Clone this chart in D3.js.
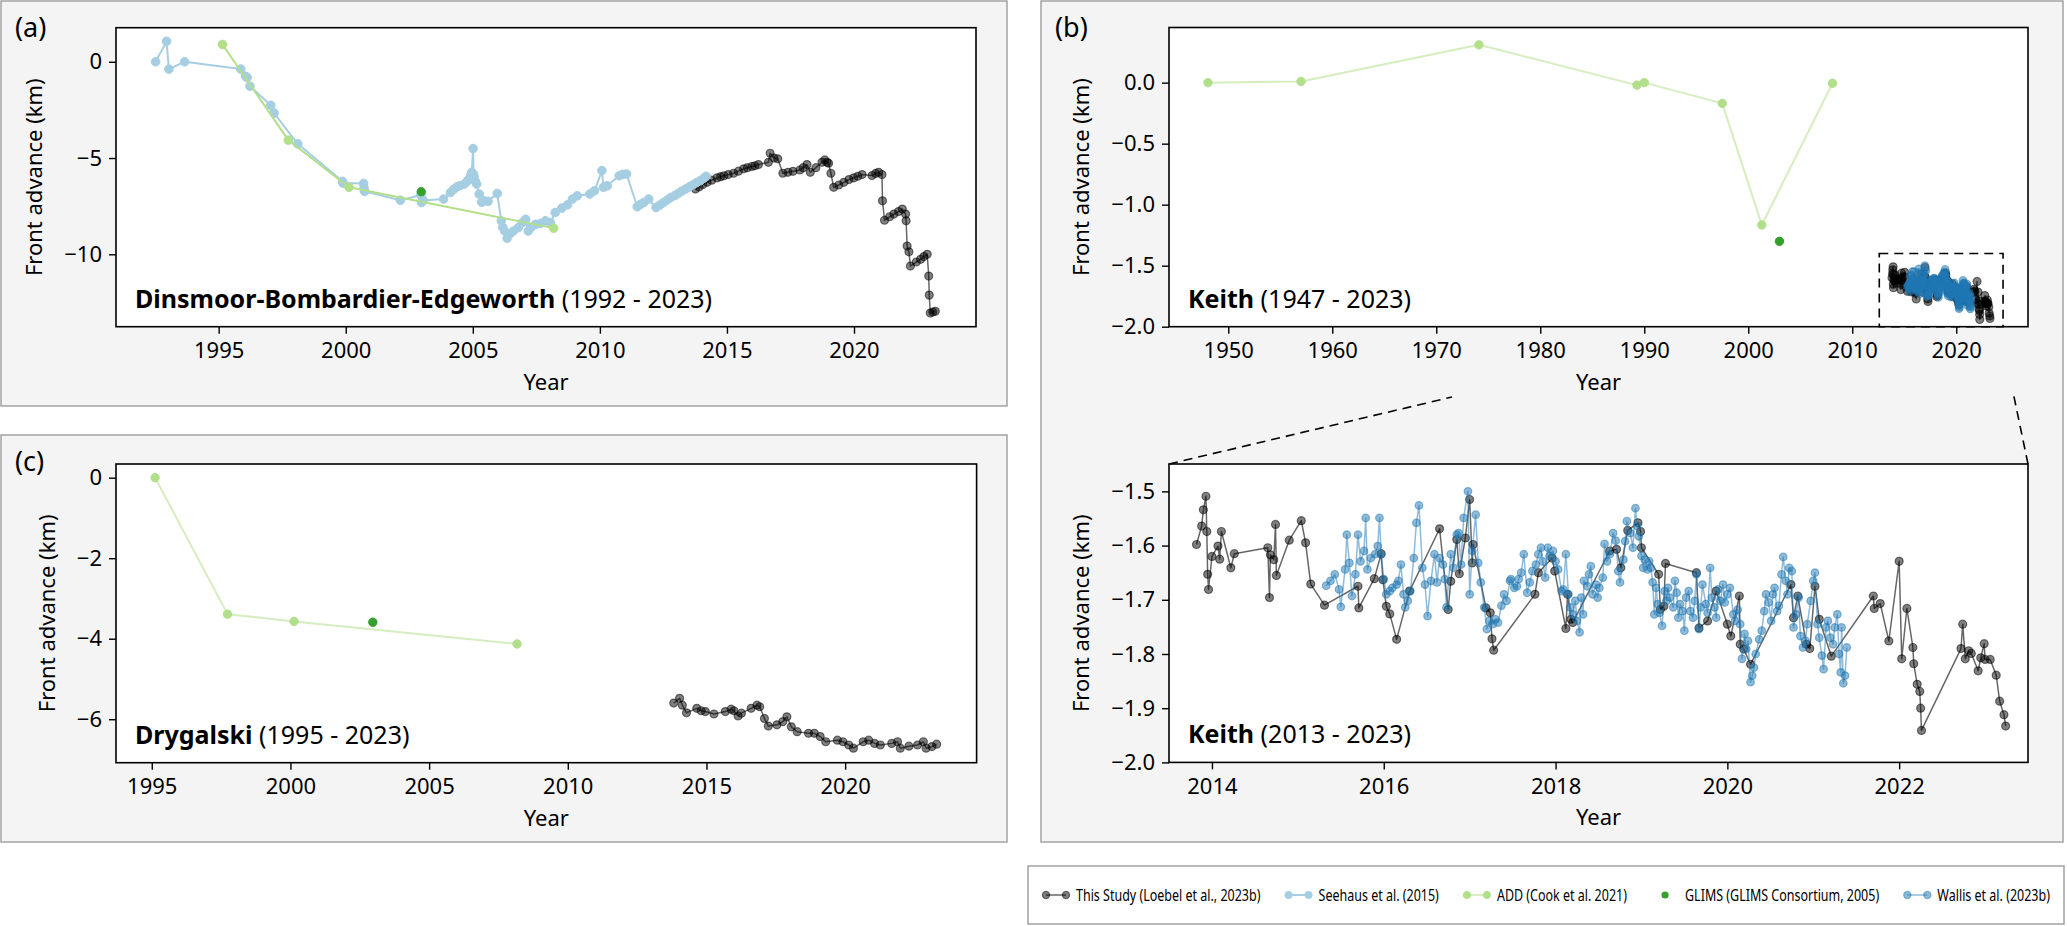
<!DOCTYPE html>
<html>
<head>
<meta charset="utf-8">
<script src="https://cdn.jsdelivr.net/npm/d3@7"></script>
<style>
  body { margin: 0; background: #fff; }
  text { font-family: "Noto Sans", "Open Sans", sans-serif; fill: #000; }
</style>
</head>
<body>
<svg id="fig" width="2067" height="926"></svg>
<script>
// ---------- data (year, front advance in km) ----------

// (a) Dinsmoor-Bombardier-Edgeworth
const dbeSeehaus = [
  [1992.52, 0.0], [1992.95, 1.06], [1993.04, -0.38], [1993.66, 0.0], [1995.87, -0.38], [1996.06, -0.75],
  [1996.12, -0.82], [1996.23, -1.27], [1997.05, -2.26], [1997.18, -2.66], [1998.11, -4.26], [1999.87, -6.21],
  [1999.89, -6.30], [2000.70, -6.32], [2000.72, -6.55], [2000.74, -6.73], [2002.15, -7.19], [2002.96, -6.92],
  [2002.98, -7.31], [2003.05, -7.20], [2003.85, -7.13], [2004.12, -6.79], [2004.25, -6.62], [2004.38, -6.49],
  [2004.50, -6.43], [2004.67, -6.35], [2004.78, -6.20], [2004.86, -6.09], [2004.92, -5.90], [2004.96, -5.74],
  [2005.01, -4.51], [2005.03, -5.85], [2005.05, -6.00], [2005.10, -6.20], [2005.15, -6.35], [2005.25, -6.87],
  [2005.35, -7.30], [2005.44, -7.22], [2005.60, -7.25], [2005.96, -6.84], [2006.12, -8.26], [2006.18, -8.60],
  [2006.25, -8.79], [2006.35, -9.17], [2006.45, -8.95], [2006.60, -8.79], [2006.79, -8.61], [2006.95, -8.35],
  [2007.08, -8.18], [2007.18, -8.79], [2007.30, -8.60], [2007.47, -8.44], [2007.66, -8.40], [2007.86, -8.26],
  [2008.05, -8.35], [2008.24, -7.83], [2008.50, -7.60], [2008.73, -7.43], [2008.92, -7.13], [2009.11, -6.96],
  [2009.60, -6.87], [2009.79, -6.70], [2010.08, -5.65], [2010.14, -6.52], [2010.29, -6.44], [2010.76, -5.92],
  [2010.90, -5.85], [2011.05, -5.83], [2011.47, -7.53], [2011.60, -7.40], [2011.73, -7.31], [2011.92, -7.13],
  [2012.21, -7.57], [2012.35, -7.45], [2012.50, -7.31], [2012.65, -7.18], [2012.79, -7.05], [2012.95, -6.95],
  [2013.08, -6.84], [2013.22, -6.72], [2013.37, -6.61], [2013.52, -6.50], [2013.66, -6.39], [2013.80, -6.28],
  [2013.95, -6.18], [2014.08, -6.05], [2014.18, -5.95]
];
const dbeThisStudy = [
  [2013.76, -6.61], [2013.90, -6.50], [2014.05, -6.38], [2014.22, -6.26], [2014.40, -6.15], [2014.61, -6.03],
  [2014.75, -5.97], [2014.88, -5.92], [2015.05, -5.86], [2015.26, -5.79], [2015.45, -5.68], [2015.66, -5.56],
  [2015.80, -5.50], [2015.98, -5.44], [2016.10, -5.40], [2016.24, -5.34], [2016.63, -5.22], [2016.70, -4.75],
  [2016.85, -5.00], [2017.00, -5.04], [2017.20, -5.79], [2017.40, -5.74], [2017.60, -5.69], [2017.87, -5.62],
  [2018.00, -5.50], [2018.15, -5.34], [2018.28, -5.74], [2018.50, -5.50], [2018.74, -5.22], [2018.85, -5.10],
  [2018.94, -5.22], [2019.00, -5.27], [2019.09, -5.79], [2019.20, -6.52], [2019.40, -6.40], [2019.60, -6.26],
  [2019.80, -6.12], [2019.99, -6.03], [2020.15, -5.95], [2020.32, -5.86], [2020.71, -5.91], [2020.85, -5.80],
  [2020.97, -5.74], [2021.10, -5.86], [2021.12, -7.22], [2021.20, -8.23], [2021.40, -8.05], [2021.57, -7.91],
  [2021.75, -7.78], [2021.90, -7.65], [2022.03, -7.91], [2022.05, -8.26], [2022.09, -9.57], [2022.16, -9.87],
  [2022.22, -10.61], [2022.45, -10.40], [2022.62, -10.26], [2022.75, -10.12], [2022.88, -10.00], [2022.94, -11.13],
  [2022.96, -12.12], [2023.00, -13.05], [2023.10, -13.00], [2023.20, -12.96]
];
const dbeAdd = [[1995.15, 0.90], [1997.74, -4.07], [2000.13, -6.52], [2008.18, -8.64]];
const dbeGlims = [[2002.97, -6.75]];

// (b) Keith
const keithAdd = [
  [1948.05, 0.0], [1957.0, 0.01], [1974.1, 0.31], [1989.3, -0.02], [1990.0, 0.0],
  [1997.5, -0.17], [2001.3, -1.166], [2008.1, -0.005]
];
const keithGlims = [[2003.0, -1.30]];
const keithThisStudy = [
  [2013.82, -1.598], [2013.88, -1.564], [2013.90, -1.534], [2013.93, -1.509], [2013.94, -1.574], [2013.95, -1.653],
  [2013.96, -1.681], [2014.00, -1.620], [2014.07, -1.601], [2014.09, -1.625], [2014.11, -1.574], [2014.22, -1.641],
  [2014.26, -1.615], [2014.65, -1.604], [2014.67, -1.696], [2014.68, -1.617], [2014.72, -1.626], [2014.74, -1.561],
  [2014.75, -1.655], [2014.90, -1.590], [2015.04, -1.554], [2015.09, -1.595], [2015.15, -1.671], [2015.31, -1.710],
  [2015.70, -1.675], [2015.71, -1.715], [2015.89, -1.661], [2015.97, -1.615], [2015.99, -1.663], [2016.03, -1.712],
  [2016.07, -1.726], [2016.15, -1.773], [2016.30, -1.684], [2016.65, -1.569], [2016.75, -1.718], [2016.78, -1.666],
  [2016.85, -1.589], [2016.88, -1.652], [2016.95, -1.586], [2017.00, -1.515], [2017.03, -1.632], [2017.04, -1.598],
  [2017.19, -1.715], [2017.24, -1.724], [2017.26, -1.772], [2017.28, -1.793], [2017.76, -1.690], [2017.80, -1.650],
  [2017.96, -1.623], [2017.99, -1.647], [2018.12, -1.753], [2018.14, -1.690], [2018.18, -1.736], [2018.20, -1.742],
  [2018.63, -1.610], [2018.71, -1.607], [2018.76, -1.641], [2018.84, -1.572], [2018.96, -1.558], [2018.99, -1.574],
  [2019.00, -1.604], [2019.20, -1.653], [2019.22, -1.718], [2019.26, -1.712], [2019.28, -1.633], [2019.64, -1.650],
  [2019.67, -1.752], [2019.77, -1.739], [2019.87, -1.684], [2020.00, -1.745], [2020.04, -1.767], [2020.14, -1.693],
  [2020.15, -1.782], [2020.19, -1.791], [2020.27, -1.819], [2020.74, -1.672], [2020.77, -1.733], [2020.82, -1.693],
  [2020.92, -1.782], [2020.96, -1.790], [2021.02, -1.675], [2021.07, -1.736], [2021.21, -1.804], [2021.70, -1.693],
  [2021.71, -1.716], [2021.78, -1.707], [2021.88, -1.776], [2022.00, -1.629], [2022.03, -1.809], [2022.09, -1.716],
  [2022.16, -1.788], [2022.17, -1.818], [2022.21, -1.856], [2022.24, -1.869], [2022.25, -1.900], [2022.26, -1.941],
  [2022.72, -1.790], [2022.74, -1.745], [2022.77, -1.809], [2022.81, -1.794], [2022.84, -1.799], [2022.92, -1.831],
  [2022.95, -1.807], [2022.99, -1.781], [2023.00, -1.810], [2023.06, -1.810], [2023.13, -1.839], [2023.17, -1.887],
  [2023.22, -1.912], [2023.24, -1.933]
];
const keithWallis = [
  [2015.33, -1.674], [2015.38, -1.665], [2015.43, -1.653], [2015.48, -1.681], [2015.50, -1.713], [2015.55, -1.644],
  [2015.57, -1.580], [2015.60, -1.632], [2015.63, -1.693], [2015.67, -1.653], [2015.70, -1.580], [2015.73, -1.629],
  [2015.77, -1.610], [2015.79, -1.549], [2015.81, -1.644], [2015.85, -1.623], [2015.90, -1.616], [2015.93, -1.601],
  [2015.95, -1.549], [2015.97, -1.616], [2016.00, -1.662], [2016.03, -1.690], [2016.07, -1.684], [2016.10, -1.678],
  [2016.15, -1.672], [2016.17, -1.665], [2016.20, -1.635], [2016.23, -1.690], [2016.25, -1.714], [2016.28, -1.702],
  [2016.31, -1.684], [2016.35, -1.623], [2016.38, -1.558], [2016.41, -1.526], [2016.45, -1.641], [2016.48, -1.672],
  [2016.51, -1.730], [2016.55, -1.665], [2016.59, -1.616], [2016.62, -1.668], [2016.65, -1.623], [2016.69, -1.635],
  [2016.71, -1.662], [2016.73, -1.714], [2016.78, -1.616], [2016.81, -1.641], [2016.85, -1.580], [2016.87, -1.577],
  [2016.90, -1.635], [2016.93, -1.549], [2016.98, -1.500], [2017.00, -1.690], [2017.03, -1.610], [2017.07, -1.543],
  [2017.10, -1.632], [2017.13, -1.668], [2017.17, -1.714], [2017.20, -1.754], [2017.23, -1.739], [2017.27, -1.745],
  [2017.30, -1.736], [2017.33, -1.742], [2017.37, -1.711], [2017.40, -1.690], [2017.43, -1.702], [2017.47, -1.665],
  [2017.48, -1.662], [2017.52, -1.678], [2017.55, -1.675], [2017.57, -1.662], [2017.60, -1.650], [2017.63, -1.616],
  [2017.67, -1.687], [2017.70, -1.668], [2017.73, -1.647], [2017.77, -1.635], [2017.80, -1.616], [2017.83, -1.604],
  [2017.85, -1.629], [2017.88, -1.659], [2017.91, -1.604], [2017.93, -1.619], [2017.97, -1.610], [2018.00, -1.629],
  [2018.03, -1.644], [2018.07, -1.684], [2018.09, -1.681], [2018.12, -1.616], [2018.15, -1.690], [2018.17, -1.714],
  [2018.20, -1.727], [2018.23, -1.702], [2018.25, -1.739], [2018.28, -1.760], [2018.30, -1.696], [2018.32, -1.727],
  [2018.33, -1.665], [2018.37, -1.675], [2018.39, -1.653], [2018.41, -1.638], [2018.43, -1.690], [2018.47, -1.672],
  [2018.49, -1.696], [2018.51, -1.678], [2018.55, -1.659], [2018.57, -1.597], [2018.60, -1.629], [2018.63, -1.616],
  [2018.67, -1.577], [2018.70, -1.591], [2018.73, -1.647], [2018.75, -1.668], [2018.79, -1.626], [2018.81, -1.592],
  [2018.83, -1.555], [2018.87, -1.577], [2018.90, -1.604], [2018.93, -1.531], [2018.95, -1.564], [2018.97, -1.583],
  [2019.00, -1.619], [2019.02, -1.641], [2019.04, -1.626], [2019.07, -1.644], [2019.09, -1.629], [2019.11, -1.641],
  [2019.13, -1.668], [2019.15, -1.727], [2019.17, -1.678], [2019.19, -1.708], [2019.21, -1.724], [2019.24, -1.748],
  [2019.27, -1.684], [2019.29, -1.702], [2019.31, -1.678], [2019.33, -1.696], [2019.37, -1.714], [2019.39, -1.665],
  [2019.41, -1.687], [2019.43, -1.733], [2019.45, -1.708], [2019.48, -1.721], [2019.50, -1.757], [2019.52, -1.696],
  [2019.55, -1.684], [2019.57, -1.721], [2019.60, -1.733], [2019.62, -1.702], [2019.64, -1.653], [2019.67, -1.754],
  [2019.69, -1.714], [2019.71, -1.672], [2019.75, -1.708], [2019.77, -1.724], [2019.80, -1.641], [2019.82, -1.696],
  [2019.85, -1.714], [2019.87, -1.733], [2019.89, -1.681], [2019.92, -1.702], [2019.95, -1.672], [2019.97, -1.705],
  [2020.00, -1.690], [2020.03, -1.678], [2020.07, -1.727], [2020.09, -1.739], [2020.12, -1.718], [2020.15, -1.745],
  [2020.17, -1.809], [2020.20, -1.763], [2020.22, -1.791], [2020.24, -1.776], [2020.27, -1.852], [2020.29, -1.840],
  [2020.31, -1.825], [2020.33, -1.800], [2020.37, -1.773], [2020.40, -1.757], [2020.43, -1.721], [2020.45, -1.690],
  [2020.48, -1.705], [2020.51, -1.739], [2020.53, -1.690], [2020.55, -1.678], [2020.58, -1.721], [2020.60, -1.711],
  [2020.63, -1.653], [2020.65, -1.621], [2020.68, -1.665], [2020.70, -1.690], [2020.72, -1.641], [2020.75, -1.647],
  [2020.77, -1.751], [2020.80, -1.727], [2020.83, -1.696], [2020.85, -1.767], [2020.88, -1.788], [2020.91, -1.776],
  [2020.93, -1.745], [2020.97, -1.702], [2021.00, -1.665], [2021.02, -1.650], [2021.05, -1.745], [2021.07, -1.770],
  [2021.10, -1.803], [2021.12, -1.828], [2021.15, -1.751], [2021.17, -1.739], [2021.20, -1.770], [2021.23, -1.782],
  [2021.25, -1.751], [2021.28, -1.727], [2021.30, -1.800], [2021.32, -1.834], [2021.33, -1.751], [2021.35, -1.854],
  [2021.37, -1.840], [2021.39, -1.788]
];

// (c) Drygalski
const drygAdd = [[1995.12, 0.0], [1997.73, -3.39], [2000.13, -3.57], [2008.17, -4.13]];
const drygGlims = [[2002.97, -3.59]];
const drygThisStudy = [
  [2013.82, -5.60], [2014.03, -5.48], [2014.13, -5.65], [2014.28, -5.84], [2014.65, -5.73], [2014.81, -5.79],
  [2014.96, -5.81], [2015.27, -5.87], [2015.68, -5.81], [2015.89, -5.75], [2015.99, -5.79], [2016.14, -5.92],
  [2016.26, -5.85], [2016.61, -5.73], [2016.82, -5.65], [2016.92, -5.69], [2017.09, -5.98], [2017.23, -6.17],
  [2017.54, -6.14], [2017.75, -6.06], [2017.90, -5.94], [2018.06, -6.19], [2018.27, -6.31], [2018.68, -6.35],
  [2018.89, -6.35], [2019.10, -6.43], [2019.30, -6.56], [2019.72, -6.52], [2019.92, -6.56], [2020.13, -6.64],
  [2020.30, -6.72], [2020.65, -6.56], [2020.85, -6.52], [2021.06, -6.60], [2021.27, -6.64], [2021.68, -6.60],
  [2021.89, -6.56], [2021.99, -6.72], [2022.30, -6.67], [2022.61, -6.64], [2022.82, -6.56], [2022.92, -6.72],
  [2023.13, -6.68], [2023.30, -6.62]
];

const legendLabels = [
  "This Study (Loebel et al., 2023b)", "Seehaus et al. (2015)", "ADD (Cook et al. 2021)",
  "GLIMS (GLIMS Consortium, 2005)", "Wallis et al. (2023b)"
];

// ---------- styles ----------
const colThis = "#000000", colSeehaus = "#a6cee3", colAdd = "#b2df8a", colGlims = "#33a02c", colWallis = "#1f78b4";

const styleThis = {color: colThis, line: true, lw: 1.5, lo: 0.6, r: 4, fo: 0.5, so: 0.5, sw: 1.2};
const styleSeehaus = {color: colSeehaus, line: true, lw: 2, lo: 1, r: 4.3, fo: 1, so: 1, sw: 1};
const styleAddA = {color: colAdd, line: true, lw: 2, lo: 1, r: 4.3, fo: 1, so: 1, sw: 1};
const styleAdd = {color: colAdd, line: true, lw: 2, lo: 0.55, r: 4.2, fo: 1, so: 1, sw: 1};
const styleGlims = {color: colGlims, line: false, r: 4.2, fo: 1, so: 1, sw: 1};
const styleWallis = {color: colWallis, line: true, lw: 1.5, lo: 0.5, r: 3.8, fo: 0.5, so: 0.5, sw: 1.2};

const svg = d3.select("#fig");
const FS = 22;

// panel backgrounds
const panels = [
  {x: 1, y: 1, w: 1006, h: 405, label: "(a)", lx: 15, ly: 37},
  {x: 1, y: 435, w: 1006, h: 407, label: "(c)", lx: 15, ly: 471},
  {x: 1041, y: 1, w: 1022, h: 841, label: "(b)", lx: 1055, ly: 37}
];
panels.forEach(p => {
  svg.append("rect").attr("x", p.x).attr("y", p.y).attr("width", p.w).attr("height", p.h)
    .attr("fill", "#f4f4f4").attr("stroke", "#a3a3a3").attr("stroke-width", 1.5);
  svg.append("text").attr("x", p.lx).attr("y", p.ly).attr("font-size", 27).text(p.label);
});

let clipN = 0;
function makeAxes(o) {
  const x = d3.scaleLinear().domain(o.xd).range([o.left, o.right]);
  const y = d3.scaleLinear().domain(o.yd).range([o.bottom, o.top]);
  const g = svg.append("g");
  g.append("rect").attr("x", o.left).attr("y", o.top)
    .attr("width", o.right - o.left).attr("height", o.bottom - o.top).attr("fill", "#fff");
  const id = "clip" + (clipN++);
  g.append("clipPath").attr("id", id).append("rect")
    .attr("x", o.left).attr("y", o.top).attr("width", o.right - o.left).attr("height", o.bottom - o.top);
  const plot = g.append("g").attr("clip-path", `url(#${id})`);

  const xAxis = g.append("g").attr("transform", `translate(0,${o.bottom})`)
    .call(d3.axisBottom(x).tickValues(o.xt).tickFormat(d3.format("d")).tickSize(7).tickPadding(9));
  const yAxis = g.append("g").attr("transform", `translate(${o.left},0)`)
    .call(d3.axisLeft(y).tickValues(o.yt).tickFormat(d3.format(o.yf)).tickSize(7).tickPadding(7));
  [xAxis, yAxis].forEach(a => {
    a.select(".domain").remove();
    a.selectAll(".tick line").attr("stroke", "#000").attr("stroke-width", 1.4);
    a.selectAll(".tick text").attr("font-size", FS).attr("font-family", "Noto Sans").attr("fill", "#000");
  });

  const top = g.append("g");
  top.append("rect").attr("x", o.left).attr("y", o.top)
    .attr("width", o.right - o.left).attr("height", o.bottom - o.top)
    .attr("fill", "none").attr("stroke", "#000").attr("stroke-width", 1.6);

  // axis labels
  g.append("text").attr("x", (o.left + o.right) / 2).attr("y", o.bottom + 63)
    .attr("text-anchor", "middle").attr("font-size", FS).text("Year");
  const lb = yAxis.node().getBBox();
  g.append("text")
    .attr("transform", `translate(${o.left + lb.x - 30},${(o.top + o.bottom) / 2}) rotate(-90)`)
    .attr("dy", "0.35em").attr("text-anchor", "middle").attr("font-size", FS).text("Front advance (km)");

  // title inside axes
  const t = top.append("text").attr("x", o.left + 19).attr("y", o.bottom - 19).attr("font-size", 25);
  t.append("tspan").attr("font-weight", "bold").text(o.name);
  t.append("tspan").text(" " + o.range);
  return {x, y, plot, top, o};
}

function drawSeries(ax, data, s) {
  const pts = d3.sort(data, d => d[0]);
  const grp = ax.plot.append("g");
  if (s.line) {
    grp.append("path").datum(pts)
      .attr("d", d3.line().x(d => ax.x(d[0])).y(d => ax.y(d[1])))
      .attr("fill", "none").attr("stroke", s.color).attr("stroke-width", s.lw)
      .attr("stroke-opacity", s.lo).attr("stroke-linejoin", "round");
  }
  grp.selectAll("circle").data(pts).join("circle")
    .attr("cx", d => ax.x(d[0])).attr("cy", d => ax.y(d[1])).attr("r", s.r)
    .attr("fill", s.color).attr("fill-opacity", s.fo)
    .attr("stroke", s.color).attr("stroke-opacity", s.so).attr("stroke-width", s.sw);
}

// ---------- (a) ----------
const axA = makeAxes({
  left: 116, right: 976, top: 27.7, bottom: 326.7,
  xd: [1990.96, 2024.8], yd: [-13.76, 1.77],
  xt: [1995, 2000, 2005, 2010, 2015, 2020], yt: [0, -5, -10], yf: "d",
  name: "Dinsmoor-Bombardier-Edgeworth", range: "(1992 - 2023)"
});
drawSeries(axA, dbeThisStudy, styleThis);
drawSeries(axA, dbeSeehaus, styleSeehaus);
drawSeries(axA, dbeAdd, styleAddA);
drawSeries(axA, dbeGlims, styleGlims);

// ---------- (c) ----------
const axC = makeAxes({
  left: 116, right: 976.6, top: 464, bottom: 762.7,
  xd: [1993.71, 2024.74], yd: [-7.08, 0.34],
  xt: [1995, 2000, 2005, 2010, 2015, 2020], yt: [0, -2, -4, -6], yf: "d",
  name: "Drygalski", range: "(1995 - 2023)"
});
drawSeries(axC, drygAdd, styleAdd);
drawSeries(axC, drygGlims, styleGlims);
drawSeries(axC, drygThisStudy, styleThis);

// ---------- (b) overview ----------
const axB = makeAxes({
  left: 1169, right: 2028, top: 27.5, bottom: 326.7,
  xd: [1944.3, 2026.9], yd: [-2.0, 0.452],
  xt: [1950, 1960, 1970, 1980, 1990, 2000, 2010, 2020], yt: [0, -0.5, -1, -1.5, -2], yf: ".1f",
  name: "Keith", range: "(1947 - 2023)"
});
drawSeries(axB, keithAdd, styleAdd);
drawSeries(axB, keithGlims, styleGlims);
drawSeries(axB, keithThisStudy, styleThis);
drawSeries(axB, keithWallis, styleWallis);

// zoom box
const zoomX = [2012.6, 2024.5], zoomY = [-2.0, -1.4];
axB.top.append("rect")
  .attr("x", axB.x(zoomX[0])).attr("y", axB.y(zoomY[1]))
  .attr("width", axB.x(zoomX[1]) - axB.x(zoomX[0])).attr("height", axB.y(zoomY[0]) - axB.y(zoomY[1]))
  .attr("fill", "none").attr("stroke", "#000").attr("stroke-width", 1.6).attr("stroke-dasharray", "9,6");

// ---------- (b) detail ----------
const axD = makeAxes({
  left: 1169, right: 2028, top: 464, bottom: 762.4,
  xd: [2013.5, 2023.5], yd: [-2.0, -1.4495],
  xt: [2014, 2016, 2018, 2020, 2022], yt: [-1.5, -1.6, -1.7, -1.8, -1.9, -2.0], yf: ".1f",
  name: "Keith", range: "(2013 - 2023)"
});
drawSeries(axD, keithThisStudy, styleThis);
drawSeries(axD, keithWallis, styleWallis);

// connector lines from detail axes corners toward the zoom box
const conn = [
  [[axD.o.left, axD.o.top], [1452, 397]],
  [[axD.o.right, axD.o.top], [2013, 392]]
];
conn.forEach(c => {
  svg.append("line").attr("x1", c[0][0]).attr("y1", c[0][1]).attr("x2", c[1][0]).attr("y2", c[1][1])
    .attr("stroke", "#000").attr("stroke-width", 1.6).attr("stroke-dasharray", "9,6");
});

// ---------- legend ----------
const legStyles = [styleThis, styleSeehaus, styleAdd, styleGlims, styleWallis];
const legBox = {x: 1028, y: 866, w: 1036, h: 58};
svg.append("rect").attr("x", legBox.x).attr("y", legBox.y).attr("width", legBox.w).attr("height", legBox.h)
  .attr("fill", "#fff").attr("stroke", "#a3a3a3").attr("stroke-width", 1.5);
const cy = legBox.y + legBox.h / 2;
const legG = svg.append("g");
const legFS = 15.5, handleW = 34, colGap = 24, pad = 14;
const texts = legendLabels.map(lab => legG.append("text").attr("font-size", legFS).text(lab));
const natural = texts.map(t => t.node().getComputedTextLength());
// narrow the labels a little so all five entries sit in one row inside the frame
const room = legBox.w - 2 * pad - legendLabels.length * handleW - (legendLabels.length - 1) * colGap;
const squeeze = Math.min(1, room / d3.sum(natural));
const widths = natural.map(w => w * squeeze);
const gap = (legBox.w - 2 * pad - legendLabels.length * handleW - d3.sum(widths)) / (legendLabels.length - 1);
let hx = legBox.x + pad;
texts.forEach((t, i) => {
  const s = legStyles[i];
  const m1 = hx + 4, m2 = hx + 24;
  if (s.line) {
    legG.append("line").attr("x1", m1).attr("x2", m2).attr("y1", cy).attr("y2", cy)
      .attr("stroke", s.color).attr("stroke-width", s.lw).attr("stroke-opacity", s.lo);
    [m1, m2].forEach(mx => legG.append("circle").attr("cx", mx).attr("cy", cy).attr("r", 3.6)
      .attr("fill", s.color).attr("fill-opacity", s.fo).attr("stroke", s.color)
      .attr("stroke-opacity", s.so).attr("stroke-width", s.sw));
  } else {
    legG.append("circle").attr("cx", (m1 + m2) / 2).attr("cy", cy).attr("r", 3.6).attr("fill", s.color);
  }
  t.attr("transform", `translate(${hx + handleW},${cy + 5.5}) scale(${squeeze},1)`);
  hx += handleW + widths[i] + gap;
});
</script>
</body>
</html>
